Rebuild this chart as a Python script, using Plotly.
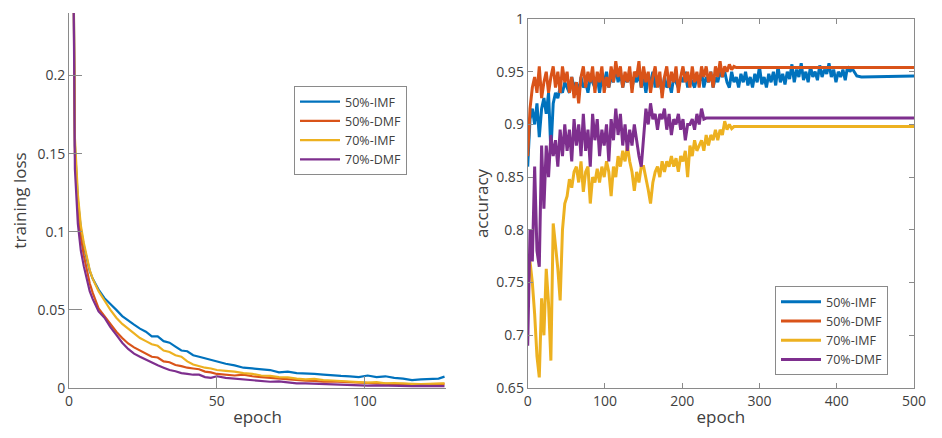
import plotly.graph_objects as go

# ---- data ----
names = ['50%-IMF', '50%-DMF', '70%-IMF', '70%-DMF']
colors = ['#0072BD', '#D95319', '#EDB120', '#7E2F8E']

loss_epoch = [1, 2, 3, 4, 5, 6, 7, 8, 10, 12, 14, 16, 18, 20, 22, 24, 26, 28, 30, 32, 34, 36, 38, 40,
              42, 44, 46, 48, 50, 53, 56, 59, 62, 65, 68, 71, 74, 77, 80, 83, 86, 89, 92, 95, 98,
              101, 104, 107, 110, 113, 116, 119, 122, 125, 127]
loss_50_imf = [0.40, 0.155, 0.12, 0.102, 0.091, 0.082, 0.075, 0.070, 0.063, 0.0575, 0.054, 0.050, 0.046,
               0.043, 0.0405, 0.038, 0.036, 0.033, 0.033, 0.030, 0.029, 0.0265, 0.024, 0.0235, 0.021,
               0.020, 0.019, 0.018, 0.017, 0.0155, 0.0145, 0.013, 0.0125, 0.012, 0.0115, 0.010, 0.0105,
               0.0095, 0.0094, 0.009, 0.0085, 0.008, 0.0077, 0.0075, 0.007, 0.008, 0.007, 0.0075,
               0.0065, 0.006, 0.005, 0.0055, 0.0058, 0.006, 0.0073]
loss_50_dmf = [0.40, 0.15, 0.115, 0.097, 0.085, 0.075, 0.067, 0.061, 0.051, 0.046, 0.041, 0.036, 0.032,
               0.0285, 0.026, 0.024, 0.022, 0.020, 0.0195, 0.017, 0.0165, 0.0147, 0.014, 0.013, 0.0125,
               0.012, 0.0105, 0.010, 0.009, 0.0085, 0.008, 0.0085, 0.0075, 0.007, 0.0065, 0.006, 0.0055,
               0.005, 0.0047, 0.0045, 0.004, 0.0042, 0.004, 0.0035, 0.0033, 0.003, 0.0032, 0.0028,
               0.0025, 0.0027, 0.0024, 0.0022, 0.0025, 0.0027, 0.0026]
loss_70_imf = [0.40, 0.16, 0.124, 0.104, 0.093, 0.083, 0.0755, 0.070, 0.062, 0.056, 0.050, 0.045, 0.041,
               0.038, 0.035, 0.032, 0.030, 0.028, 0.027, 0.024, 0.023, 0.021, 0.020, 0.017, 0.015,
               0.014, 0.013, 0.0125, 0.0115, 0.011, 0.0105, 0.0095, 0.009, 0.008, 0.0078, 0.007, 0.0068,
               0.006, 0.0055, 0.0058, 0.005, 0.0048, 0.0045, 0.0042, 0.004, 0.0035, 0.0038, 0.003,
               0.0032, 0.0028, 0.0027, 0.0025, 0.0028, 0.003, 0.003]
loss_70_dmf = [0.40, 0.14, 0.105, 0.088, 0.078, 0.070, 0.062, 0.057, 0.049, 0.045, 0.039, 0.034, 0.029,
               0.025, 0.022, 0.020, 0.018, 0.016, 0.0145, 0.013, 0.0115, 0.0107, 0.0095, 0.009, 0.0085,
               0.0085, 0.007, 0.0065, 0.0075, 0.0065, 0.006, 0.0055, 0.005, 0.0045, 0.004, 0.0042,
               0.0035, 0.003, 0.003, 0.0028, 0.0025, 0.0022, 0.002, 0.0022, 0.0018, 0.0015, 0.0017,
               0.0015, 0.0013, 0.0015, 0.0012, 0.0013, 0.0011, 0.0012, 0.0012]

# accuracy: noisy part sampled every 3 epochs, then the flat tail value
acc_step = 3
acc_50_imf = [0.86, 0.905, 0.915, 0.90, 0.92, 0.888, 0.915, 0.925, 0.91, 0.93, 0.874, 0.92, 0.93, 0.925,
              0.935, 0.93, 0.94, 0.935, 0.93, 0.945, 0.935, 0.94, 0.93, 0.945, 0.935, 0.94, 0.93, 0.945,
              0.94, 0.935, 0.945, 0.93, 0.945, 0.94, 0.95, 0.935, 0.945, 0.94, 0.955, 0.94, 0.95, 0.935,
              0.945, 0.94, 0.95, 0.935, 0.945, 0.94, 0.95, 0.935, 0.945, 0.93, 0.945, 0.94, 0.95, 0.935,
              0.945, 0.94, 0.93, 0.945, 0.935, 0.94, 0.93, 0.945, 0.94, 0.935, 0.945, 0.94, 0.95, 0.935,
              0.945, 0.94, 0.935, 0.945, 0.94, 0.95, 0.935, 0.945, 0.94, 0.95, 0.935, 0.945, 0.94, 0.95,
              0.945, 0.95, 0.94, 0.935, 0.95, 0.94, 0.945, 0.935, 0.948, 0.94, 0.95, 0.937, 0.945, 0.935,
              0.948, 0.94, 0.955, 0.938, 0.945, 0.935, 0.948, 0.94, 0.95, 0.937, 0.955, 0.94, 0.948,
              0.938, 0.95, 0.943, 0.957, 0.94, 0.952, 0.945, 0.958, 0.942, 0.95, 0.94, 0.955, 0.945,
              0.95, 0.942, 0.956, 0.945, 0.952, 0.948, 0.958, 0.945, 0.952, 0.94, 0.95, 0.945, 0.952,
              0.942, 0.955, 0.95, 0.953]
tail_50_imf_epoch = [426, 432, 500]
tail_50_imf = [0.946, 0.945, 0.946]

acc_50_dmf = [0.87, 0.915, 0.935, 0.945, 0.93, 0.955, 0.925, 0.94, 0.95, 0.93, 0.945, 0.955, 0.935, 0.95,
              0.93, 0.955, 0.94, 0.95, 0.93, 0.945, 0.925, 0.94, 0.92, 0.945, 0.955, 0.935, 0.95, 0.94,
              0.955, 0.93, 0.95, 0.94, 0.955, 0.93, 0.945, 0.935, 0.955, 0.94, 0.96, 0.945, 0.955, 0.935,
              0.95, 0.94, 0.955, 0.93, 0.95, 0.945, 0.96, 0.935, 0.955, 0.94, 0.95, 0.93, 0.945, 0.955,
              0.935, 0.95, 0.925, 0.945, 0.955, 0.935, 0.95, 0.94, 0.955, 0.93, 0.945, 0.955, 0.94, 0.95,
              0.935, 0.955, 0.94, 0.95, 0.935, 0.955, 0.945, 0.955, 0.94, 0.95, 0.935, 0.955, 0.945,
              0.96, 0.945, 0.955, 0.95, 0.957, 0.952, 0.955, 0.954]
tail_50_dmf_epoch = [500]
tail_50_dmf = [0.954]

acc_70_imf = [0.75, 0.77, 0.75, 0.72, 0.68, 0.66, 0.735, 0.70, 0.763, 0.73, 0.676, 0.806, 0.785, 0.763,
              0.733, 0.80, 0.825, 0.832, 0.848, 0.84, 0.855, 0.86, 0.845, 0.865, 0.836, 0.855, 0.86,
              0.825, 0.85, 0.845, 0.858, 0.845, 0.86, 0.85, 0.865, 0.855, 0.832, 0.86, 0.85, 0.87, 0.86,
              0.875, 0.865, 0.88, 0.865, 0.855, 0.837, 0.855, 0.845, 0.86, 0.86, 0.85, 0.838, 0.825,
              0.845, 0.855, 0.86, 0.85, 0.865, 0.855, 0.865, 0.86, 0.87, 0.86, 0.868, 0.855, 0.87, 0.865,
              0.875, 0.85, 0.88, 0.87, 0.885, 0.875, 0.88, 0.885, 0.875, 0.89, 0.88, 0.89, 0.885, 0.895,
              0.885, 0.895, 0.89, 0.903, 0.895, 0.90, 0.896, 0.898, 0.898]
tail_70_imf_epoch = [500]
tail_70_imf = [0.898]

acc_70_dmf = [0.69, 0.80, 0.77, 0.86, 0.78, 0.765, 0.88, 0.82, 0.88, 0.85, 0.89, 0.87, 0.885, 0.86, 0.895,
              0.87, 0.90, 0.875, 0.895, 0.865, 0.905, 0.88, 0.90, 0.87, 0.91, 0.875, 0.895, 0.86, 0.91,
              0.885, 0.905, 0.87, 0.895, 0.88, 0.90, 0.865, 0.905, 0.885, 0.915, 0.89, 0.91, 0.88, 0.90,
              0.875, 0.895, 0.88, 0.90, 0.885, 0.87, 0.86, 0.89, 0.915, 0.90, 0.92, 0.905, 0.91, 0.895,
              0.91, 0.905, 0.915, 0.895, 0.91, 0.89, 0.905, 0.90, 0.91, 0.895, 0.905, 0.885, 0.90, 0.90,
              0.905, 0.895, 0.91, 0.90, 0.915, 0.905, 0.906]
tail_70_dmf_epoch = [500]
tail_70_dmf = [0.906]

loss_series = [loss_50_imf, loss_50_dmf, loss_70_imf, loss_70_dmf]
acc_series = [(acc_50_imf, tail_50_imf_epoch, tail_50_imf),
              (acc_50_dmf, tail_50_dmf_epoch, tail_50_dmf),
              (acc_70_imf, tail_70_imf_epoch, tail_70_imf),
              (acc_70_dmf, tail_70_dmf_epoch, tail_70_dmf)]

FONT = 'Open Sans'
AX = '#8a8a8a'
TXT = '#404040'
W, H = 942, 438
OFF = 8  # page body margin of the browser

def px_x(p):
    return (p - OFF) / W

def px_y(p):
    return (H - (p - OFF)) / H

fig = go.Figure()

for name, col, ys in zip(names, colors, loss_series):
    fig.add_trace(go.Scatter(x=loss_epoch, y=ys, mode='lines', name=name,
                             line=dict(color=col, width=2.2), xaxis='x', yaxis='y',
                             legend='legend'))

for name, col, (vals, tail_x, tail_y) in zip(names, colors, acc_series):
    xs = [acc_step * i for i in range(len(vals))] + tail_x
    fig.add_trace(go.Scatter(x=xs, y=vals + tail_y, mode='lines', name=name,
                             line=dict(color=col, width=3), xaxis='x2', yaxis='y2',
                             legend='legend2'))

common = dict(showgrid=False, zeroline=False, ticks='inside', tickcolor=AX, linecolor=AX,
              linewidth=1, showline=True, automargin=False, ticklabeloverflow='allow',
              tickfont=dict(size=14, color=TXT, family=FONT),
              title_font=dict(size=17, color=TXT, family=FONT))

leg = dict(xanchor='left', yanchor='top', bgcolor='white', bordercolor=AX, borderwidth=1,
           font=dict(size=12.5, color=TXT, family=FONT), tracegroupgap=0, itemwidth=40)

fig.update_layout(
    width=W, height=H,
    margin=dict(l=0, r=0, t=0, b=0),
    paper_bgcolor='white', plot_bgcolor='white',
    font=dict(family=FONT, color=TXT),
    xaxis=dict(domain=[px_x(69), px_x(446)], range=[0, 127.5], tickvals=[0, 50, 100],
               ticklen=12, title=dict(text='epoch', standoff=2), anchor='y', **common),
    yaxis=dict(domain=[px_y(388), px_y(13)], range=[0, 0.24], tickvals=[0, 0.05, 0.1, 0.15, 0.2],
               ticktext=['0', '0.05', '0.1', '0.15', '0.2'],
               ticklen=13, title=dict(text='training loss', standoff=6), anchor='x', **common),
    xaxis2=dict(domain=[px_x(527.7), px_x(914)], range=[0, 500], dtick=100, ticklen=5,
                mirror='ticks', title=dict(text='epoch', standoff=2), anchor='y2', **common),
    yaxis2=dict(domain=[px_y(388), px_y(19)], range=[0.65, 1],
                tickvals=[0.65, 0.7, 0.75, 0.8, 0.85, 0.9, 0.95, 1],
                ticktext=['0.65', '0.7', '0.75', '0.8', '0.85', '0.9', '0.95', '1'], ticklen=5,
                mirror='ticks', title=dict(text='accuracy', standoff=3), anchor='x2', **common),
    legend=dict(x=px_x(294), y=px_y(86), **leg),
    legend2=dict(x=px_x(775), y=px_y(286), **leg),
)

fig.write_html("out.html")
